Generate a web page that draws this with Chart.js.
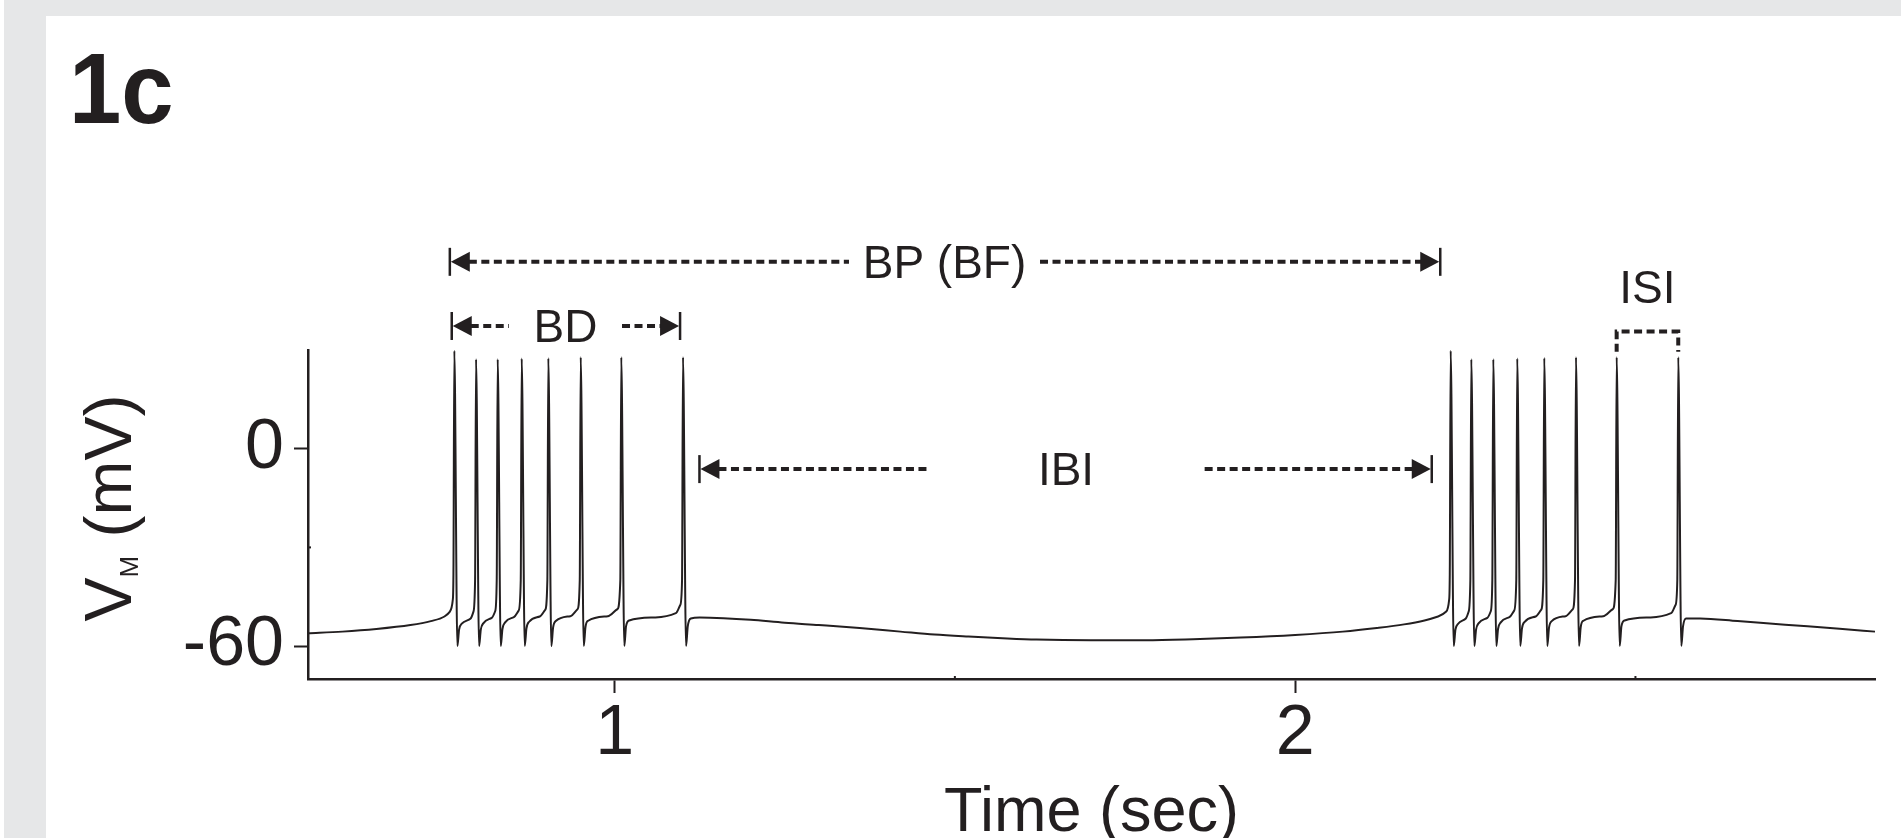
<!DOCTYPE html>
<html>
<head>
<meta charset="utf-8">
<title>1c</title>
<script src="https://cdn.jsdelivr.net/npm/chart.js@4.4.1/dist/chart.umd.min.js"></script>
<style>
  html, body { margin: 0; padding: 0; background: #ffffff; overflow: hidden; }
  .frame { position: absolute; background: #e6e7e8; }
  #frameLeft { left: 4px; top: 0; width: 42px; height: 838px; }
  #frameTop { left: 4px; top: 0; width: 1897px; height: 16px; }
  #wrap { position: absolute; left: 0; top: 0; width: 1901px; height: 880px; }
</style>
</head>
<body>
<div class="frame" id="frameLeft"></div>
<div class="frame" id="frameTop"></div>
<div id="wrap"><canvas id="traceChart" width="1901" height="880"></canvas></div>
<script>
// Membrane potential trace (time in sec, Vm in mV)
const preTime = [0.5495, 0.60, 0.65, 0.70, 0.73, 0.75];
const preVm = [-56.1, -55.6, -54.8, -53.6, -52.4, -51.0];

const burst1Time = [
  0.7580, 0.7622, 0.7632, 0.7645, 0.7690, 0.7715, 0.7755,
  0.7885, 0.7925, 0.7950, 0.7964, 0.8009, 0.8034, 0.8074,
  0.8195, 0.8245, 0.8268, 0.8282, 0.8327, 0.8352, 0.8392,
  0.8520, 0.8590, 0.8621, 0.8635, 0.8680, 0.8705, 0.8745,
  0.8900, 0.8980, 0.9012, 0.9026, 0.9071, 0.9096, 0.9136,
  0.9350, 0.9455, 0.9488, 0.9502, 0.9547, 0.9572, 0.9612,
  0.9900, 1.0040, 1.0084, 1.0098, 1.0143, 1.0168, 1.0215,
  1.0600, 1.0900, 1.0965, 1.0991, 1.1005, 1.1050, 1.1075, 1.1120
];
const burst1Vm = [
  -49.5, -46.0, -38.0, 29.8, -60.0, -55.0, -53.2,
  -51.6, -49.6, -40.0, 27.2, -60.0, -55.0, -53.0,
  -51.4, -49.4, -40.0, 27.2, -60.0, -54.8, -52.8,
  -51.2, -49.2, -40.0, 27.4, -60.0, -54.6, -52.6,
  -51.0, -49.0, -40.0, 27.5, -60.0, -54.4, -52.4,
  -50.9, -48.8, -40.0, 27.8, -60.0, -54.2, -52.3,
  -50.9, -48.8, -40.0, 27.8, -60.0, -54.0, -52.2,
  -51.3, -50.0, -47.5, -40.0, 27.8, -60.0, -54.0, -51.6
];

const ibiTime = [1.125, 1.16, 1.20, 1.25, 1.30, 1.36, 1.42, 1.47, 1.52, 1.57, 1.62,
  1.70, 1.78, 1.85, 1.92, 2.00, 2.07, 2.12, 2.16, 2.19, 2.21];
const ibiVm = [-51.3, -51.5, -52.0, -52.9, -53.6, -54.5, -55.6, -56.5, -57.1, -57.6, -58.0,
  -58.2, -58.2, -57.9, -57.4, -56.6, -55.6, -54.5, -53.4, -52.2, -51.0];

const burst2Time = [
  2.2220, 2.2262, 2.2272, 2.2285, 2.2330, 2.2355, 2.2395,
  2.2508, 2.2548, 2.2574, 2.2588, 2.2633, 2.2658, 2.2698,
  2.2824, 2.2874, 2.2897, 2.2911, 2.2956, 2.2981, 2.3021,
  2.3148, 2.3218, 2.3249, 2.3263, 2.3308, 2.3333, 2.3373,
  2.3534, 2.3614, 2.3646, 2.3660, 2.3705, 2.3730, 2.3770,
  2.3974, 2.4079, 2.4112, 2.4126, 2.4171, 2.4196, 2.4236,
  2.4526, 2.4666, 2.4710, 2.4724, 2.4769, 2.4794, 2.4841,
  2.5224, 2.5524, 2.5589, 2.5615, 2.5629, 2.5674, 2.5699, 2.5744
];
const burst2Vm = [
  -49.5, -46.0, -38.0, 29.8, -60.0, -55.0, -53.2,
  -51.6, -49.6, -40.0, 27.2, -60.0, -55.0, -53.0,
  -51.4, -49.4, -40.0, 27.2, -60.0, -54.8, -52.8,
  -51.2, -49.2, -40.0, 27.4, -60.0, -54.6, -52.6,
  -51.0, -49.0, -40.0, 27.6, -60.0, -54.4, -52.4,
  -50.9, -48.8, -40.0, 27.8, -60.0, -54.2, -52.3,
  -50.9, -48.8, -40.0, 27.8, -60.0, -54.0, -52.2,
  -51.3, -50.0, -47.5, -40.0, 27.8, -60.0, -54.0, -51.6
];

const postTime = [2.595, 2.65, 2.72, 2.80, 2.852];
const postVm = [-51.6, -52.4, -53.5, -54.7, -55.6];

// Axis ticks
const xMajorTicks = [1, 2];
const xMinorTicks = [1.5, 2.5];
const yMajorTicks = [-60, 0];
const yMinorTicks = [-30];

// Interval markers above the trace (in sec / mV)
const intervalMarkers = [
  { label: "BP (BF)", from: 0.7579, to: 2.2132, level: 56.8, gapFrom: 1.3444, gapTo: 1.6251 },
  { label: "BD", from: 0.7607, to: 1.0962, level: 37.3, gapFrom: 0.8448, gapTo: 1.0109 },
  { label: "IBI", from: 1.1247, to: 2.2007, level: -6.2, gapFrom: 1.4596, gapTo: 1.8670 }
];
const isiMarker = { label: "ISI", from: 2.4724, to: 2.5629, top: 35.6, bottom: 29.5, textLevel: 44.2 };

const INK = "#231f20";
const FONT = "'Liberation Sans', Arial, Helvetica, sans-serif";

const traceTime = [...preTime, ...burst1Time, ...ibiTime, ...burst2Time, ...postTime];
const traceVm = [...preVm, ...burst1Vm, ...ibiVm, ...burst2Vm, ...postVm];
const tracePoints = traceTime.map((t, i) => ({ x: t, y: traceVm[i] }));

// Draws the panel letter, y title, minor ticks and interval markers
const figurePlugin = {
  id: "figureExtras",
  afterDraw(chart) {
    const ctx = chart.ctx;
    const xs = chart.scales.x;
    const ys = chart.scales.y;
    const area = chart.chartArea;
    ctx.save();
    ctx.fillStyle = INK;
    ctx.strokeStyle = INK;

    // panel letter (slightly condensed like the original)
    ctx.save();
    ctx.translate(69, 123);
    ctx.scale(0.94, 1);
    ctx.font = "bold 100px " + FONT;
    ctx.textAlign = "left";
    ctx.textBaseline = "alphabetic";
    ctx.fillText("1c", 0, 0);
    ctx.restore();

    // y axis title with subscript
    ctx.save();
    ctx.translate(131, 508);
    ctx.rotate(-Math.PI / 2);
    ctx.font = "66px " + FONT;
    const wV = ctx.measureText("V").width;
    const wRest = ctx.measureText(" (mV)").width;
    ctx.font = "26px " + FONT;
    const wM = ctx.measureText("M").width;
    let tx = -(wV + wM + wRest) / 2;
    ctx.font = "66px " + FONT;
    ctx.fillText("V", tx, 0);
    tx += wV;
    ctx.font = "26px " + FONT;
    ctx.fillText("M", tx, 7);
    tx += wM;
    ctx.font = "66px " + FONT;
    ctx.fillText(" (mV)", tx, 0);
    ctx.restore();

    // minor ticks, pointing inward
    ctx.lineWidth = 2;
    xMinorTicks.forEach((v) => {
      const px = xs.getPixelForValue(v);
      ctx.beginPath();
      ctx.moveTo(px, area.bottom);
      ctx.lineTo(px, area.bottom - 3);
      ctx.stroke();
    });
    yMinorTicks.forEach((v) => {
      const py = ys.getPixelForValue(v);
      ctx.beginPath();
      ctx.moveTo(area.left, py);
      ctx.lineTo(area.left + 3, py);
      ctx.stroke();
    });

    // interval arrows
    const headLen = 19;
    const headHalf = 10;
    const barHalf = 14;
    ctx.font = "46px " + FONT;
    ctx.textAlign = "center";
    intervalMarkers.forEach((m) => {
      const x0 = xs.getPixelForValue(m.from);
      const x1 = xs.getPixelForValue(m.to);
      const g0 = xs.getPixelForValue(m.gapFrom);
      const g1 = xs.getPixelForValue(m.gapTo);
      const y = ys.getPixelForValue(m.level);

      ctx.setLineDash([]);
      ctx.lineWidth = 2.5;
      [x0, x1].forEach((bx) => {
        ctx.beginPath();
        ctx.moveTo(bx, y - barHalf);
        ctx.lineTo(bx, y + barHalf);
        ctx.stroke();
      });
      ctx.beginPath();
      ctx.moveTo(x0 + 1, y);
      ctx.lineTo(x0 + 1 + headLen, y - headHalf);
      ctx.lineTo(x0 + 1 + headLen, y + headHalf);
      ctx.closePath();
      ctx.fill();
      ctx.beginPath();
      ctx.moveTo(x1 - 1, y);
      ctx.lineTo(x1 - 1 - headLen, y - headHalf);
      ctx.lineTo(x1 - 1 - headLen, y + headHalf);
      ctx.closePath();
      ctx.fill();

      ctx.setLineDash([8, 4.5]);
      ctx.lineWidth = 4;
      ctx.beginPath();
      ctx.moveTo(x0 + headLen, y);
      ctx.lineTo(g0, y);
      ctx.stroke();
      ctx.beginPath();
      ctx.moveTo(g1, y);
      ctx.lineTo(x1 - headLen, y);
      ctx.stroke();

      ctx.fillText(m.label, (g0 + g1) / 2, y + 16);
    });

    // ISI bracket
    const ix0 = xs.getPixelForValue(isiMarker.from);
    const ix1 = xs.getPixelForValue(isiMarker.to);
    const iyTop = ys.getPixelForValue(isiMarker.top);
    const iyBot = ys.getPixelForValue(isiMarker.bottom);
    ctx.setLineDash([8, 4.5]);
    ctx.lineWidth = 4;
    ctx.beginPath();
    ctx.moveTo(ix0, iyBot);
    ctx.lineTo(ix0, iyTop);
    ctx.lineTo(ix1, iyTop);
    ctx.lineTo(ix1, iyBot);
    ctx.stroke();
    ctx.setLineDash([]);
    ctx.fillText(isiMarker.label, (ix0 + ix1) / 2, ys.getPixelForValue(isiMarker.textLevel));

    ctx.restore();
  }
};

const ctx = document.getElementById("traceChart").getContext("2d");
new Chart(ctx, {
  type: "scatter",
  data: {
    datasets: [
      {
        data: tracePoints,
        showLine: true,
        borderColor: INK,
        borderWidth: 2,
        pointRadius: 0,
        cubicInterpolationMode: "monotone",
        clip: false,
      },
    ],
  },
  options: {
    responsive: false,
    animation: false,
    devicePixelRatio: 1,
    layout: { padding: { left: 0, right: 26, top: 350, bottom: 0 } },
    plugins: {
      legend: { display: false },
      tooltip: { enabled: false },
    },
    scales: {
      x: {
        type: "linear",
        min: 0.5495,
        max: 2.852,
        afterBuildTicks: (scale) => {
          scale.ticks = xMajorTicks.map((v) => ({ value: v }));
        },
        afterFit: (scale) => {
          scale.height = 880 - 679;
        },
        grid: {
          display: true,
          drawOnChartArea: false,
          drawTicks: true,
          tickLength: 14,
          tickWidth: 2,
          tickColor: INK,
        },
        border: { display: true, color: INK, width: 2.5 },
        ticks: {
          color: INK,
          font: { family: FONT, size: 70 },
          padding: 0,
          maxRotation: 0,
          autoSkip: false,
        },
        title: {
          display: true,
          text: "Time (sec)",
          color: INK,
          font: { family: FONT, size: 63 },
          padding: { top: 0, bottom: 29 },
        },
      },
      y: {
        type: "linear",
        min: -70,
        max: 30,
        afterBuildTicks: (scale) => {
          scale.ticks = yMajorTicks.map((v) => ({ value: v }));
        },
        afterFit: (scale) => {
          scale.width = 308;
        },
        grid: {
          display: true,
          drawOnChartArea: false,
          drawTicks: true,
          tickLength: 14,
          tickWidth: 2,
          tickColor: INK,
        },
        border: { display: true, color: INK, width: 2.5 },
        ticks: {
          color: INK,
          font: { family: FONT, size: 70 },
          padding: 10,
        },
      },
    },
  },
  plugins: [figurePlugin],
});
</script>
</body>
</html>
